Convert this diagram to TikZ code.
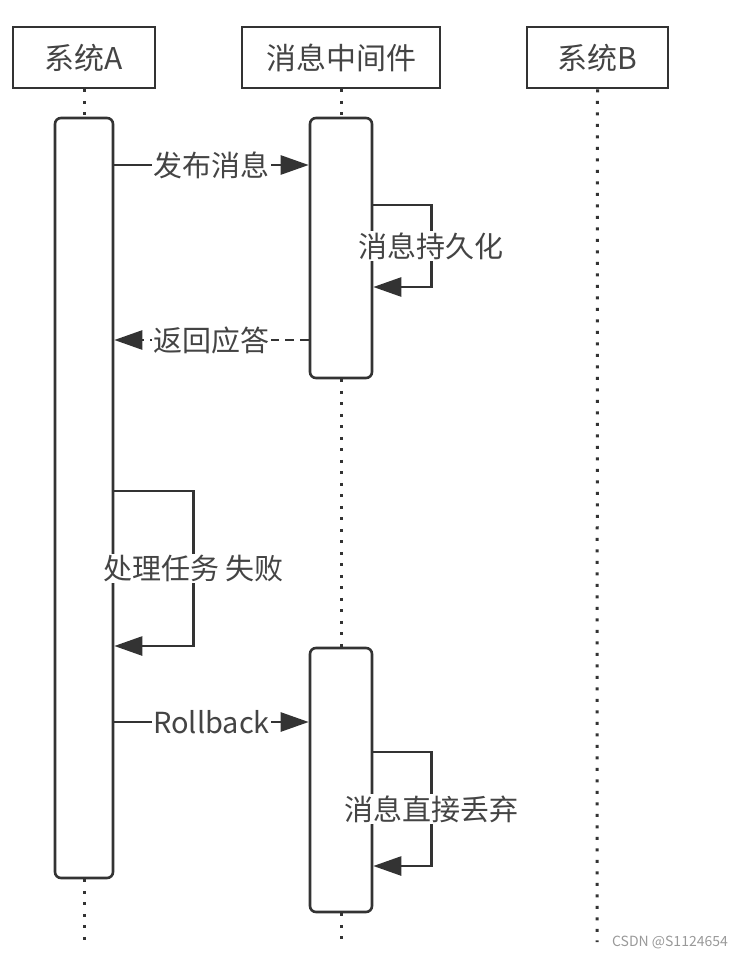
\documentclass[tikz,border=0pt]{standalone}
\usepackage{fontspec}
\setmainfont{Noto Sans CJK SC}
\usetikzlibrary{arrows.meta}

\definecolor{ink}{HTML}{333333}
\definecolor{txt}{HTML}{444444}

\tikzset{
	head/.style = {draw=ink, line width=2.8pt, minimum height=61pt, text=txt, font=\fontsize{30}{33}\selectfont},
	act/.style = {draw=ink, line width=2.6pt, rounded corners=6pt, fill=white, minimum width=58pt},
	life/.style = {ink, line width=3pt, dash pattern=on 3pt off 8.5pt},
	msg/.style = {ink, line width=2.6pt, -{Triangle[length=28pt,width=19pt]}},
	lbl/.style = {fill=white, text=txt, inner sep=1.5pt, font=\fontsize{29}{32}\selectfont}
}

\begin{document}
\begin{tikzpicture}[x=1pt,y=-1pt]
		\useasboundingbox (0,0) rectangle (744,956);
		% headers
		\node[head, minimum width=142pt] (sysA) at (84,57.5) {系统A};
		\node[head, minimum width=198pt] (mq) at (341,57.5) {消息中间件};
		\node[head, minimum width=141pt] (sysB) at (597.5,57.5) {系统B};
		% activation boxes
		\node[act, minimum height=760pt] (actA) at (84,498) {};
		\node[act, minimum width=62pt, minimum height=260pt] (actM) at (341,248) {};
		\node[act, minimum width=62pt, minimum height=264pt] (actR) at (341,780) {};
		% life lines
		\coordinate (endA) at (84,942);
		\coordinate (endM) at (341,942);
		\coordinate (endB) at (597,942);
		\draw[life] (sysA.south) -- (actA.north);
		\draw[life] (actA.south) -- (endA);
		\draw[life] (mq.south) -- (actM.north);
		\draw[life] (actM.south) -- (actR.north);
		\draw[life] (actR.south) -- (endM);
		\draw[life] (sysB.south) -- (endB);
		% messages
		\draw[msg] (actA.east |- 0,165) -- node[lbl] {发布消息} (actM.west |- 0,165);
		\draw[msg] (actM.east |- 0,205) -- ++(58,0) -- node[lbl] {消息持久化} ++(0,82) -- (actM.east |- 0,287);
		\draw[msg, dash pattern=on 9pt off 6pt] (actM.west |- 0,340) -- node[lbl] {返回应答} (actA.east |- 0,340);
		\draw[msg] (actA.east |- 0,491) -- ++(79,0) -- node[lbl] {处理任务 失败} ++(0,155) -- (actA.east |- 0,646);
		\draw[msg] (actA.east |- 0,722) -- node[lbl] {Rollback} (actR.west |- 0,722);
		\draw[msg] (actR.east |- 0,752) -- ++(58,0) -- node[lbl] {消息直接丢弃} ++(0,114) -- (actR.east |- 0,866);
		% watermark
		\node[text=gray!80, font=\fontsize{14}{17}\selectfont] (mark) at (670,942) {CSDN @S1124654};
\end{tikzpicture}
\end{document}
